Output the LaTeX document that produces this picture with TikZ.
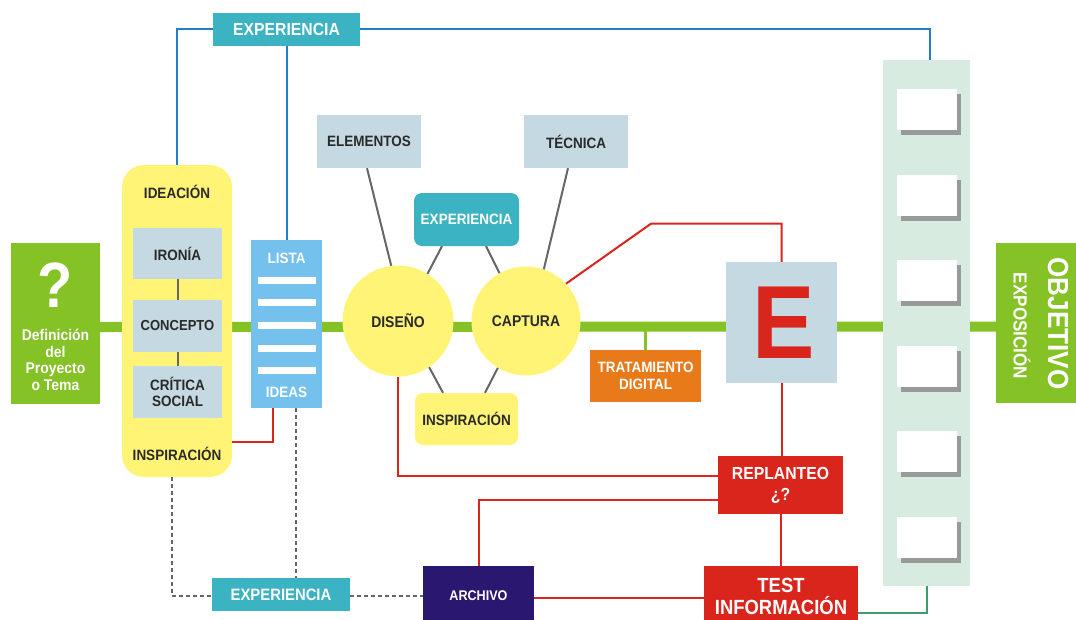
\documentclass[tikz,border=0pt]{standalone}
\usepackage{fontspec}
\setmainfont{Liberation Sans}[FakeStretch=0.9]
\usetikzlibrary{backgrounds}
\definecolor{cgreen}{HTML}{84C225}
\definecolor{cyellow}{HTML}{FFF475}
\definecolor{cgrayblue}{HTML}{C4D9E2}
\definecolor{clblue}{HTML}{74C1EE}
\definecolor{cteal}{HTML}{3BB3C3}
\definecolor{cred}{HTML}{DA251D}
\definecolor{corange}{HTML}{E87A1A}
\definecolor{cnavy}{HTML}{2A1870}
\definecolor{cpale}{HTML}{D8EBE0}
\definecolor{cblueline}{HTML}{1F7FCC}
\definecolor{cgrayline}{HTML}{666666}
\definecolor{cdkgreen}{HTML}{3F9A6C}
\definecolor{ctext}{HTML}{2A2A2A}
\begin{document}
\begin{tikzpicture}[x=1pt,y=-1pt,
  box/.style={rectangle, inner sep=0pt, align=center, font=\bfseries\fontsize{15}{16}\selectfont},
  gbox/.style={box, fill=cgrayblue, text=ctext},
  lbl/.style={inner sep=0pt, align=center, font=\bfseries\fontsize{15}{16}\selectfont, text=ctext},
  wlbl/.style={lbl, text=white},
  mainln/.style={cgreen, line width=10pt},
  blueln/.style={cblueline, line width=2pt},
  redln/.style={cred, line width=2pt},
  grayln/.style={cgrayline, line width=2pt},
  dashln/.style={cgrayline, line width=2pt, dash pattern=on 4pt off 3pt},
]
\useasboundingbox (0,0) rectangle (1076,619);

% left question box
\node[box, fill=cgreen, minimum width=89pt, minimum height=161pt] (q) at (55.5,323.5) {};
\node[wlbl, font=\bfseries\fontsize{64}{64}\selectfont] (qm) at (55.5,285) {?};
\node[wlbl, font=\bfseries\fontsize{15.5}{16.5}\selectfont] (qt) at (55.5,360) {Definición\\del\\Proyecto\\o Tema};

% ideation column
\node[box, fill=cyellow, rounded corners=22pt, minimum width=110pt, minimum height=312pt] (col) at (177,321) {};
\node[lbl] (ideacion) at (177,192) {IDEACIÓN};
\node[gbox, minimum width=89pt, minimum height=51pt] (ironia) at (177.5,253.5) {IRONÍA};
\node[gbox, minimum width=89pt, minimum height=52pt, font=\bfseries\fontsize{14.5}{16}\selectfont] (concepto) at (177.5,326) {CONCEPTO};
\node[gbox, minimum width=89pt, minimum height=52pt] (critica) at (177.5,392) {CRÍTICA\\SOCIAL};
\node[lbl] (inspcol) at (177,454) {INSPIRACIÓN};
\draw[grayln] (ironia) -- (concepto);
\draw[grayln] (concepto) -- (critica);

% lista ideas
\node[box, fill=clblue, minimum width=71pt, minimum height=168pt] (lista) at (286.5,324) {};
\node[wlbl] (listat) at (286.5,258) {LISTA};
\node[wlbl] (ideas) at (286.5,392) {IDEAS};
\foreach \yy in {280,302,325,348,370} \fill[white] (258,{\yy-3.5}) rectangle (316,{\yy+3.5});

% experiencia top and bottom
\node[box, fill=cteal, text=white, font=\bfseries\fontsize{17.5}{18}\selectfont, minimum width=147pt, minimum height=33pt] (exptop) at (286.5,29) {EXPERIENCIA};
\node[box, fill=cteal, text=white, font=\bfseries\fontsize{16.5}{18}\selectfont, minimum width=138pt, minimum height=33pt] (expbot) at (281,594.5) {EXPERIENCIA};

% circles
\node[circle, fill=cyellow, minimum size=111pt, inner sep=0pt, text=ctext, font=\bfseries\fontsize{15.5}{16}\selectfont] (diseno) at (398,321) {DISEÑO};
\node[circle, fill=cyellow, minimum size=109pt, inner sep=0pt, text=ctext, font=\bfseries\fontsize{15.5}{16}\selectfont] (captura) at (526,321) {CAPTURA};

\node[gbox, minimum width=104pt, minimum height=53pt] (elementos) at (369,141.5) {ELEMENTOS};
\node[gbox, minimum width=104pt, minimum height=53pt] (tecnica) at (576,141.5) {TÉCNICA};
\node[box, fill=cteal, text=white, rounded corners=8pt, minimum width=105pt, minimum height=53pt] (expmid) at (466.5,219.5) {EXPERIENCIA};
\node[box, fill=cyellow, text=ctext, rounded corners=8pt, minimum width=103pt, minimum height=52pt] (inspmid) at (466.5,419) {INSPIRACIÓN};

\draw[grayln] ([xshift=-2pt]elementos.south) -- (diseno.97);
\draw[grayln] ([xshift=-8pt]tecnica.south) -- (captura.71);
\draw[grayln] ([xshift=-24.5pt]expmid.south) -- (diseno.58);
\draw[grayln] ([xshift=19.5pt]expmid.south) -- (captura.119);
\draw[grayln] (diseno.-56) -- ([xshift=-23.5pt]inspmid.north);
\draw[grayln] (captura.-121) -- ([xshift=18.5pt]inspmid.north);

% tratamiento, E, replanteo, archivo, test
\node[box, fill=corange, text=white, minimum width=111pt, minimum height=52pt, font=\bfseries\fontsize{15}{17}\selectfont] (trat) at (645.5,376) {TRATAMIENTO\\DIGITAL};
\node[box, fill=cgrayblue, minimum width=111pt, minimum height=121pt] (E) at (781.5,322.5) {};
\node[inner sep=0pt, text=cred, font=\bfseries\fontsize{104}{104}\selectfont] (Et) at (784,322.5) {E};
\node[box, fill=cred, text=white, minimum width=125pt, minimum height=58pt, font=\bfseries\fontsize{17.5}{21}\selectfont] (replanteo) at (780.5,485) {REPLANTEO\\¿?};
\node[box, fill=cnavy, text=white, minimum width=111pt, minimum height=60pt, font=\bfseries\fontsize{14}{16}\selectfont] (archivo) at (478.5,596) {ARCHIVO};
\node[box, fill=cred, text=white, minimum width=154pt, minimum height=60pt, font=\bfseries\fontsize{20.5}{22}\selectfont] (test) at (781,596) {TEST\\INFORMACIÓN};

% right pale column with squares
\node[box, fill=cpale, minimum width=87pt, minimum height=526pt] (pcol) at (926.5,323) {};
\foreach \i in {0,...,5} {
  \fill[black!40] (901,{94+85.6*\i}) rectangle (961,{135+85.6*\i});
  \node[fill=white, minimum width=60pt, minimum height=41pt, inner sep=0pt] (sq\i) at (927,{109.5+85.6*\i}) {};
}

% objetivo
\node[box, fill=cgreen, minimum width=80pt, minimum height=160pt] (obj) at (1036,323) {};
\node[wlbl, rotate=-90, font=\bfseries\fontsize{29}{30}\selectfont] (objt) at (1058,323.5) {OBJETIVO};
\node[wlbl, rotate=-90, font=\bfseries\fontsize{19}{20}\selectfont] (expo) at (1022,326) {EXPOSICIÓN};

% background lines
\begin{pgfonlayer}{background}
\draw[mainln] ([yshift=-3.5pt]q.east) -- ([yshift=-3.5pt]obj.west);
\draw[cgreen, line width=2.5pt] (trat.north) -- (trat.north |- E.center);
\end{pgfonlayer}

% blue connectors
\draw[blueln] (exptop.west) -| (col.north);
\draw[blueln] (exptop.south) -- (lista.north);
\draw[blueln] (exptop.east) -| ([xshift=3.5pt]pcol.north);

% red connectors
\draw[redln] ([yshift=-121pt]col.east) -| ([xshift=-13.5pt]lista.south);
\draw[redln] (captura.43) -- ++(85,-60) -| (E.north);
\draw[redln] (E.south) -- (E.south |- replanteo.north);
\draw[redln] (diseno.south) |- ([yshift=9pt]replanteo.west);
\draw[redln] ([yshift=-15pt]replanteo.west) -| (archivo.north);
\draw[redln] (replanteo.south) -- (replanteo.south |- test.north);
\draw[redln] ([yshift=-2pt]archivo.east) -- ([yshift=-2pt]test.west);

% dark green connector
\draw[cdkgreen, line width=2pt] ([yshift=-17pt]test.east) -| (pcol.south);

% dashed connectors
\draw[dashln] ([xshift=-5pt]col.south) |- ([yshift=-1.5pt]expbot.west);
\draw[dashln] ([xshift=9.5pt]lista.south) -- ([xshift=9.5pt]lista.south |- expbot.north);
\draw[dashln] ([yshift=-1.5pt]expbot.east) -- ([yshift=-1.5pt]expbot.east -| archivo.west);
\end{tikzpicture}
\end{document}
